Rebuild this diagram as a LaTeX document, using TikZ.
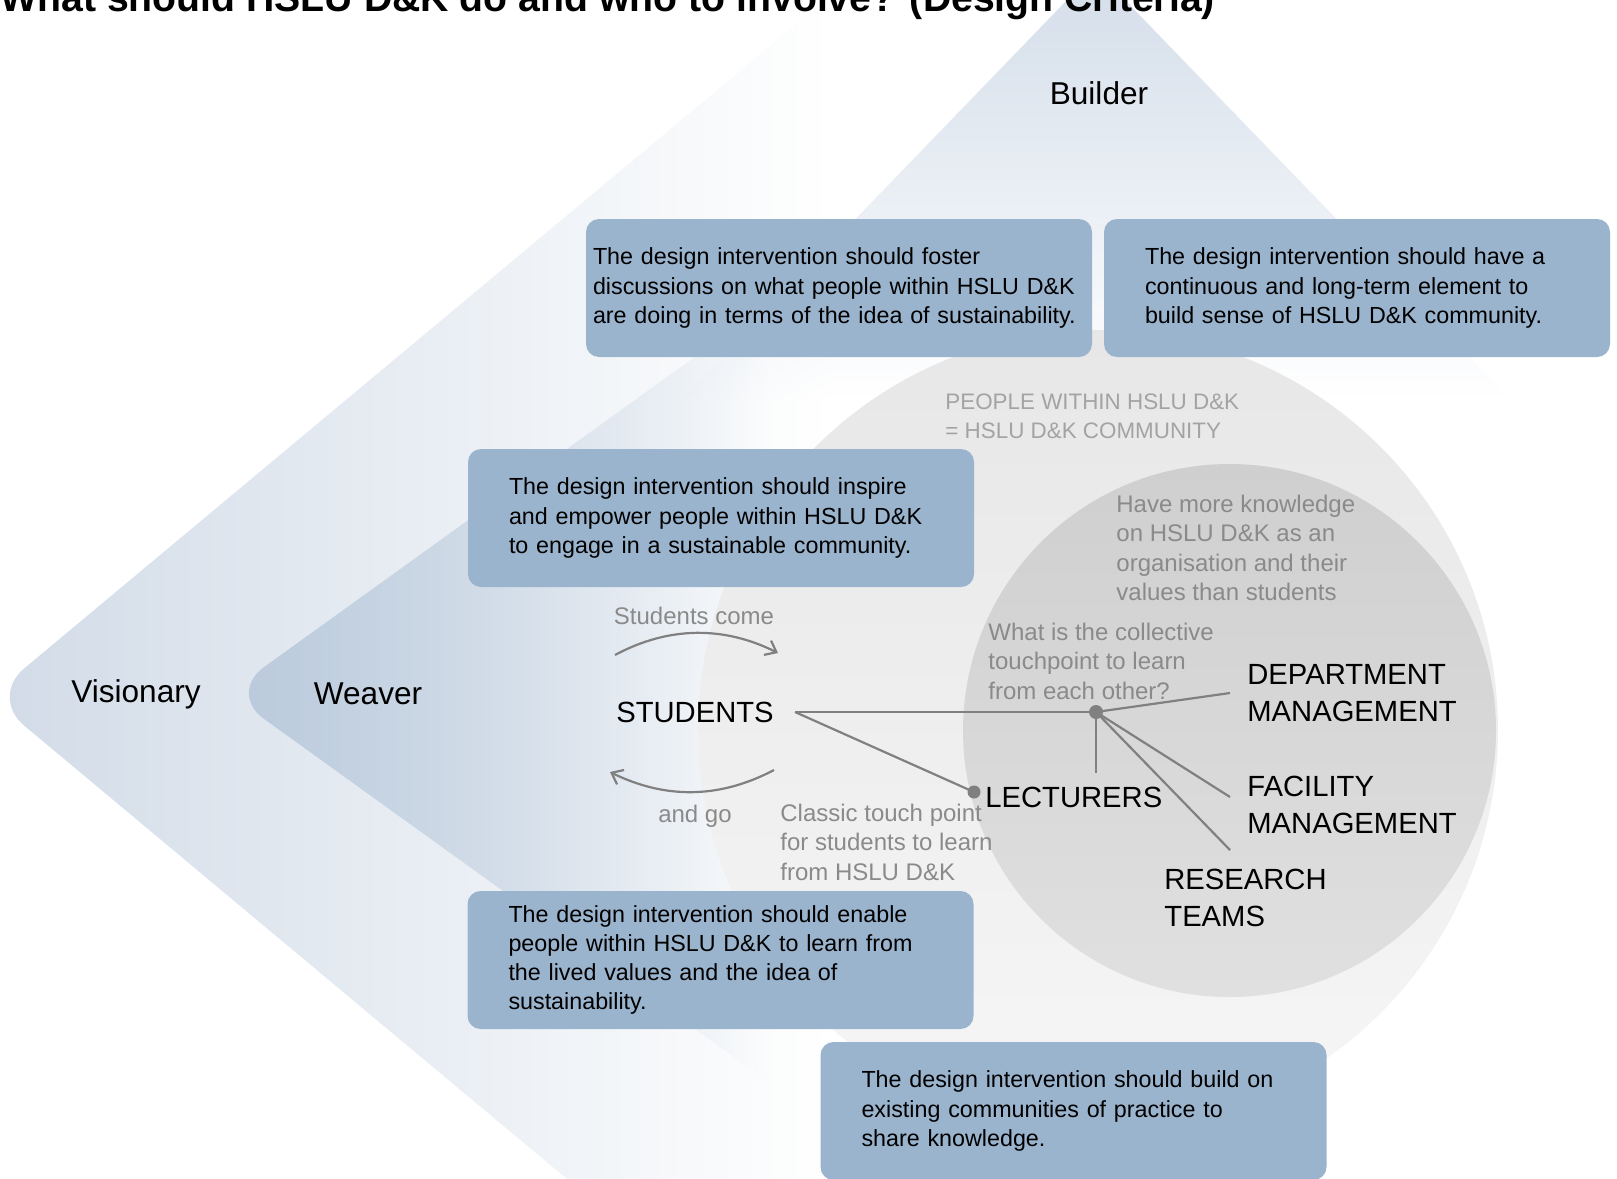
\documentclass[tikz,border=0pt]{standalone}
\usepackage{fontspec}
\setmainfont{Liberation Sans}
\usetikzlibrary{arrows.meta,fadings}

\definecolor{critbox}{HTML}{9BB4CE}
\definecolor{vischev}{HTML}{D1DBE7}
\definecolor{weavchev}{HTML}{BACADC}
\definecolor{buildchev}{HTML}{D3DDE9}
\definecolor{comtop}{HTML}{E7E7E7}
\definecolor{combot}{HTML}{F6F6F6}
\definecolor{coretop}{HTML}{CFCFCF}
\definecolor{corebot}{HTML}{E0E0E0}
\definecolor{notegray}{HTML}{8A8A8A}
\definecolor{capsgray}{HTML}{A3A3A3}
\definecolor{linkgray}{HTML}{808080}

\tikzfading[name=fade out east, left color=transparent!0, right color=transparent!100]
\tikzfading[name=fade out south, top color=transparent!0, bottom color=transparent!100]

\begin{document}
\begin{tikzpicture}[x=0.5pt,y=-0.5pt,
    crit/.style={fill=critbox, rounded corners=6.5pt, minimum width=253pt, minimum height=69pt,
      inner sep=0pt, align=left, text width=212pt, font=\fontsize{11.65}{14.6}\selectfont},
    role/.style={inner sep=0pt, font=\fontsize{15.8}{18}\selectfont},
    actor/.style={anchor=west, align=left, inner sep=0pt, font=\fontsize{14.6}{18.5}\selectfont},
    note/.style={anchor=west, align=left, inner sep=0pt, text=notegray, font=\fontsize{12}{14.75}\selectfont},
    link/.style={draw=linkgray, line width=1.1pt}]
  \useasboundingbox (0,0) rectangle (1617,1178);
  \clip (0,0) rectangle (1617,1178);

  % chevrons: visionary, weaver, builder
  \begin{scope}
    \clip[rounded corners=22pt] (-10,697) -- (897,-60) -- (1700,-60) -- (1700,1240) -- (640,1240) -- cycle;
    \fill[vischev, path fading=fade out east] (-10,-60) rectangle (830,1240);
  \end{scope}
  \begin{scope}
    \clip[rounded corners=22pt] (228,693) -- (1274,-60) -- (1700,-60) -- (1700,1240) -- (988,1240) -- cycle;
    \fill[weavchev, path fading=fade out east] (228,-60) rectangle (770,1240);
  \end{scope}
  \begin{scope}
    \clip[rounded corners=22pt] (1096,-30) -- (1660,554) -- (532,554) -- cycle;
    \fill[buildchev, path fading=fade out south] (530,-30) rectangle (1660,400);
  \end{scope}

  % community circles
  \shade[top color=comtop, bottom color=combot] (1098,730) circle[radius=400];
  \shade[top color=coretop, bottom color=corebot] (1229.5,730.5) circle[radius=266.5];

  % design criteria
  \node[crit, text width=246pt] (foster) at (839,288) {The design intervention should foster\\discussions on what people within HSLU D\&K\\are doing in terms of the idea of sustainability.};
  \node[crit] (continuous) at (1357,288) {The design intervention should have a\\continuous and long-term element to\\build sense of HSLU D\&K community.};
  \node[crit] (inspire) at (721,518) {The design intervention should inspire\\and empower people within HSLU D\&K\\to engage in a sustainable community.};
  \node[crit] (enable) at (720.5,960) {The design intervention should enable\\people within HSLU D\&K to learn from\\the lived values and the idea of\\sustainability.};
  \node[crit] (buildon) at (1073.5,1111) {The design intervention should build on\\existing communities of practice to\\share knowledge.};

  % labels
  \node[anchor=base west, inner sep=0pt, font=\bfseries\fontsize{19.6}{24}\selectfont] (title) at (0,11) {What should HSLU D\&K do and who to involve? (Design Criteria)};
  \node[role] (builder) at (1099,93) {Builder};
  \node[role] (visionary) at (136,694) {Visionary};
  \node[role] (weaver) at (368,694) {Weaver};

  \node[note, text=capsgray, font=\fontsize{11.2}{14.5}\selectfont] (people) at (945,416.5) {PEOPLE WITHIN HSLU D\&K\\= HSLU D\&K COMMUNITY};
  \node[note] (knowledge) at (1116,548) {Have more knowledge\\on HSLU D\&K as an\\organisation and their\\values than students};
  \node[note] (collective) at (988,661) {What is the collective\\touchpoint to learn\\from each other?};
  \node[note, anchor=center] (come) at (694,616) {Students come};
  \node[note, anchor=center] (go) at (695,816) {and go};
  \node[note] (classic) at (780,842) {Classic touch point\\for students to learn\\from HSLU D\&K};

  \node[actor, anchor=center] (students) at (695,712) {STUDENTS};
  \node[actor] (lecturers) at (985,797) {LECTURERS};
  \node[actor] (dept) at (1247,693.5) {DEPARTMENT\\MANAGEMENT};
  \node[actor] (facility) at (1247,805) {FACILITY\\MANAGEMENT};
  \node[actor] (research) at (1164,897.5) {RESEARCH\\TEAMS};

  % touch points
  \coordinate (stu-out) at (795,712);
  \coordinate (hub) at (1096,712);
  \coordinate (lec-dot) at (974,792);
  \coordinate (lec-up) at (1096,773);
  \coordinate (dept-in) at (1230,693);
  \coordinate (fac-in) at (1230,797);
  \coordinate (res-in) at (1230,850);
  \draw[link] (stu-out) -- (hub);
  \draw[link] (stu-out) -- (lec-dot);
  \draw[link] (hub) -- (dept-in);
  \draw[link] (hub) -- (lec-up);
  \draw[link] (hub) -- (fac-in);
  \draw[link] (hub) -- (res-in);
  \fill[linkgray] (hub) circle[radius=7];
  \fill[linkgray] (lec-dot) circle[radius=6.5];

  % come and go
  \coordinate (come-a) at (615,655);
  \coordinate (come-b) at (778,653);
  \coordinate (go-a) at (774,770);
  \coordinate (go-b) at (610,772);
  \draw[link, -{Straight Barb[length=5pt,width=8pt]}] (come-a) .. controls (669,626) and (724,626) .. (come-b);
  \draw[link, -{Straight Barb[length=5pt,width=8pt]}] (go-a) .. controls (719,799) and (665,799) .. (go-b);
\end{tikzpicture}
\end{document}
